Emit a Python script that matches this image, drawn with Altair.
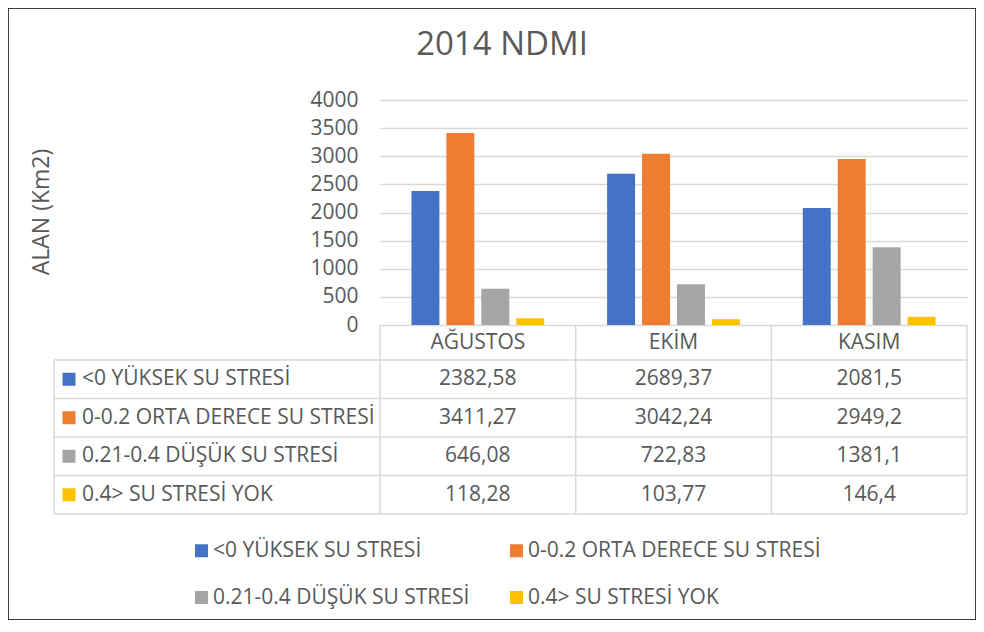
import altair as alt
import pandas as pd

# ---- data ----
months = ["AĞUSTOS", "EKİM", "KASIM"]
series = ["<0 YÜKSEK SU STRESİ", "0-0.2 ORTA DERECE SU STRESİ",
          "0.21-0.4 DÜŞÜK SU STRESİ", "0.4> SU STRESİ YOK"]
yuksek = [2382.58, 2689.37, 2081.5]
orta = [3411.27, 3042.24, 2949.2]
dusuk = [646.08, 722.83, 1381.1]
yok = [118.28, 103.77, 146.4]
colors = ["#4472C4", "#ED7D31", "#A5A5A5", "#FFC000"]
y_ticks = [0, 500, 1000, 1500, 2000, 2500, 3000, 3500, 4000]
title_text = "2014 NDMI"
y_title = "ALAN (Km2)"

rows = []
for s, vals in zip(series, [yuksek, orta, dusuk, yok]):
    for m, v in zip(months, vals):
        rows.append({"month": m, "series": s, "value": v,
                     "label": str(v).replace(".", ",")})
df = pd.DataFrame(rows)
rowdf = pd.DataFrame({"series": series})
lastrow = pd.DataFrame({"series": [series[-1]]})
mdf = pd.DataFrame({"month": months})
lastmonth = pd.DataFrame({"month": [months[-1]]})
titledf = pd.DataFrame({"t": [title_text]})

# ---- layout (view coordinates) ----
W, H = 968, 612
PX0, PX1 = 372, 959
PY0, PY1 = 317, 92
ROW0, ROW1 = 352, 506
TLEFT = 46
FONT = "Open Sans"
TEXT = "#595959"
GRID = "#D9D9D9"
FS = 21

xscale = alt.Scale(domain=months, range=[PX0, PX1], paddingInner=0, paddingOuter=0)
xaxis = alt.Axis(orient="bottom", offset=-(H - PY0), title=None, domain=False,
                 ticks=False, grid=False, labelAngle=0, labelFontSize=FS,
                 labelFont=FONT, labelColor=TEXT, labelPadding=6)
rowscale = alt.Scale(domain=series, range=[ROW0, ROW1], paddingInner=0, paddingOuter=0)
colorscale = alt.Scale(domain=series, range=colors)
legend = alt.Legend(title=None, orient="none", legendX=183, legendY=532, columns=2,
                    direction="horizontal",
                    columnPadding=36, rowPadding=25, symbolType="square",
                    symbolSize=169, symbolStrokeWidth=0, labelFontSize=FS,
                    labelFont=FONT, labelColor=TEXT, labelLimit=0, labelOffset=1)


def X(**kw):
    return alt.X("month:N", scale=xscale, axis=xaxis, **kw)


bars = alt.Chart(df).mark_bar().encode(
    x=X(),
    xOffset=alt.XOffset("series:N", scale=alt.Scale(domain=series, paddingInner=0.2,
                                                     paddingOuter=0.9)),
    y=alt.Y("value:Q", scale=alt.Scale(domain=[0, 4000], range=[PY0, PY1], nice=False),
            axis=alt.Axis(values=y_ticks, format="d", offset=-PX0, domain=False,
                          ticks=False, grid=True, gridColor=GRID, gridWidth=1.3,
                          labelFontSize=FS, labelFont=FONT, labelColor=TEXT,
                          labelPadding=22, title=y_title, titleFont=FONT,
                          titleFontSize=23, titleFontWeight="normal",
                          titleColor=TEXT, titleX=-339, titleY=(PY0 + PY1) / 2 - 1,
                          titleAngle=270, titleAlign="center",
                          titleBaseline="middle")),
    color=alt.Color("series:N", scale=colorscale, legend=legend),
)

cells = alt.Chart(df).mark_text(font=FONT, fontSize=FS, color=TEXT).encode(
    x=X(),
    y=alt.Y("series:N", scale=rowscale, axis=None),
    text="label:N",
)

rowlabels = alt.Chart(rowdf).mark_text(font=FONT, fontSize=FS, color=TEXT,
                                       align="left").encode(
    x=alt.value(74),
    y=alt.Y("series:N", scale=rowscale, axis=None),
    text="series:N",
)

swatches = alt.Chart(rowdf).mark_square(size=169, opacity=1).encode(
    x=alt.value(61),
    y=alt.Y("series:N", scale=rowscale, axis=None),
    color=alt.Color("series:N", scale=colorscale, legend=legend),
)

hlines = alt.Chart(rowdf).mark_rule(color=GRID, strokeWidth=1.5).encode(
    x=alt.value(TLEFT), x2=alt.value(PX1),
    y=alt.Y("series:N", scale=rowscale, axis=None, bandPosition=0),
)
hbottom = alt.Chart(lastrow).mark_rule(color=GRID, strokeWidth=1.5).encode(
    x=alt.value(TLEFT), x2=alt.value(PX1),
    y=alt.Y("series:N", scale=rowscale, axis=None, bandPosition=1),
)
vlines = alt.Chart(mdf).mark_rule(color=GRID, strokeWidth=1.5).encode(
    x=X(bandPosition=0), y=alt.value(PY0), y2=alt.value(ROW1),
)
vlast = alt.Chart(lastmonth).mark_rule(color=GRID, strokeWidth=1.5).encode(
    x=X(bandPosition=1), y=alt.value(PY0), y2=alt.value(ROW1),
)
vleft = alt.Chart(lastrow).mark_rule(color=GRID, strokeWidth=1.5).encode(
    x=alt.value(TLEFT), y=alt.value(ROW0), y2=alt.value(ROW1),
)

title = alt.Chart(titledf).mark_text(font=FONT, fontSize=33, color=TEXT).encode(
    x=alt.value(494), y=alt.value(37), text="t:N",
)

chart = alt.layer(
    bars, hlines, hbottom, vlines, vlast, vleft, cells, rowlabels, swatches, title
).resolve_scale(y="independent").properties(
    width=W, height=H, padding=0
).configure_view(stroke="#000000", strokeWidth=1.5)

chart.save("out.html", embed_options={"renderer": "svg", "actions": False})
